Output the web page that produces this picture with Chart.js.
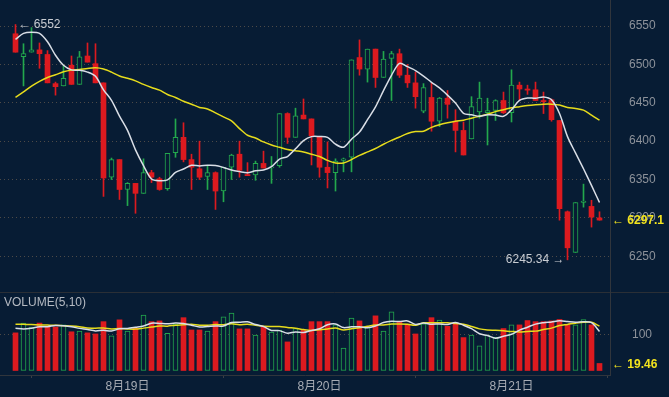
<!DOCTYPE html>
<html>
<head>
<meta charset="utf-8">
<script src="https://cdn.jsdelivr.net/npm/chart.js@4.4.1/dist/chart.umd.min.js"></script>
<style>
  html, body { margin: 0; padding: 0; background: #071c34; overflow: hidden; }
  #wrap { position: relative; width: 669px; height: 397px; }
  #priceChart { position: absolute; left: 0; top: 0; }
  #volChart { position: absolute; left: 0; top: 292px; }
</style>
</head>
<body>
<div id="wrap">
  <canvas id="priceChart" width="669" height="292"></canvas>
  <canvas id="volChart" width="669" height="105"></canvas>
</div>
<script>
/* ---------------- DATA (hourly candles) ---------------- */

const times = [
  '08-18 10:00','08-18 11:00','08-18 12:00','08-18 13:00','08-18 14:00','08-18 15:00','08-18 16:00',
  '08-18 17:00','08-18 18:00','08-18 19:00','08-18 20:00','08-18 21:00','08-18 22:00','08-18 23:00',
  '08-19 00:00','08-19 01:00','08-19 02:00','08-19 03:00','08-19 04:00','08-19 05:00','08-19 06:00','08-19 07:00',
  '08-19 08:00','08-19 09:00','08-19 10:00','08-19 11:00','08-19 12:00','08-19 13:00','08-19 14:00','08-19 15:00',
  '08-19 16:00','08-19 17:00','08-19 18:00','08-19 19:00','08-19 20:00','08-19 21:00','08-19 22:00','08-19 23:00',
  '08-20 00:00','08-20 01:00','08-20 02:00','08-20 03:00','08-20 04:00','08-20 05:00','08-20 06:00','08-20 07:00',
  '08-20 08:00','08-20 09:00','08-20 10:00','08-20 11:00','08-20 12:00','08-20 13:00','08-20 14:00','08-20 15:00',
  '08-20 16:00','08-20 17:00','08-20 18:00','08-20 19:00','08-20 20:00','08-20 21:00','08-20 22:00','08-20 23:00',
  '08-21 00:00','08-21 01:00','08-21 02:00','08-21 03:00','08-21 04:00','08-21 05:00','08-21 06:00','08-21 07:00',
  '08-21 08:00','08-21 09:00','08-21 10:00','08-21 11:00'
];

const opens = [
  6540, 6510, 6516, 6519, 6513, 6475, 6472, 6499, 6474, 6511,
  6501, 6476, 6353, 6376, 6337, 6345, 6332, 6359, 6351, 6338,
  6385, 6405, 6376, 6364, 6354, 6359, 6335, 6366, 6383, 6356.5,
  6356, 6371, 6365, 6368, 6436, 6405, 6434, 6429, 6405, 6366,
  6359, 6375, 6379, 6509, 6494, 6520, 6483, 6508, 6514, 6486,
  6476, 6439, 6457, 6426, 6456, 6426, 6414, 6403, 6438, 6437,
  6440, 6453, 6437, 6473, 6468, 6467, 6453, 6454, 6427, 6308,
  6255, 6320, 6315, 6300
];
const highs = [
  6552, 6527, 6548, 6528, 6518, 6477, 6498, 6511, 6517, 6528,
  6527, 6476, 6378, 6376, 6346, 6345, 6377, 6362, 6353, 6384,
  6429, 6424, 6383, 6400, 6368, 6360, 6366, 6383, 6400, 6372,
  6374, 6387, 6380, 6436, 6437, 6443, 6455, 6429, 6406, 6399,
  6377, 6378, 6506, 6532, 6520, 6520, 6517, 6517, 6520, 6500,
  6490, 6475, 6476, 6457, 6466, 6441, 6425, 6458, 6477, 6456,
  6454, 6464, 6493, 6477, 6473, 6477, 6464, 6455, 6427, 6309,
  6320, 6344, 6323, 6308
];
const lows = [
  6516, 6472, 6516, 6495, 6476, 6460, 6472, 6474, 6474, 6503,
  6476, 6328, 6350, 6324, 6316, 6306, 6332, 6346, 6336, 6336,
  6379, 6373, 6337, 6350, 6337, 6311, 6321, 6350, 6353, 6355,
  6349, 6365, 6345, 6366, 6397, 6405, 6429, 6369, 6353, 6339,
  6335, 6360, 6360, 6486, 6477, 6470, 6483, 6453, 6483, 6470,
  6443, 6437, 6413, 6419, 6430, 6386, 6382, 6403, 6430, 6395,
  6427, 6436, 6425, 6453, 6461, 6453, 6436, 6426, 6297, 6245.34,
  6255, 6314, 6288, 6297
];
const closes = [
  6516, 6514, 6519, 6514, 6476, 6471, 6482, 6474, 6510, 6503,
  6476, 6352, 6376, 6337, 6345, 6332, 6359, 6353, 6337, 6384,
  6405, 6376, 6366, 6353, 6359, 6335, 6366, 6382, 6362, 6355,
  6371, 6365, 6366.5, 6436, 6405, 6433, 6429, 6407, 6366, 6359,
  6374, 6377, 6506, 6494, 6520, 6483, 6507, 6514, 6486, 6476,
  6458, 6470, 6426, 6456, 6448, 6414, 6382, 6445, 6456, 6440,
  6453, 6437, 6473, 6468, 6466.5, 6453, 6451.5, 6428, 6312, 6261,
  6320, 6322, 6301, 6297.1
];

// MA lines (white = MA7, yellow = MA30)
const ma7 = [
  6532.6, 6540.5, 6542, 6540.5, 6529.6, 6512, 6498.9, 6492.9, 6492.3, 6490,
  6484.6, 6466.9, 6453.3, 6432.6, 6414, 6388.7, 6368.1, 6350.6, 6348.4, 6349.6,
  6359.3, 6363.7, 6368.6, 6367.7, 6368.6, 6368.3, 6365.7, 6362.4, 6360.4, 6358.9,
  6361.4, 6362.3, 6366.7, 6376.7, 6380, 6390.1, 6400.7, 6405.9, 6406, 6405,
  6396.1, 6392.1, 6402.6, 6411.9, 6428, 6444.7, 6465.9, 6485.9, 6501.4, 6497.1,
  6492, 6484.9, 6476.7, 6469.4, 6460, 6449.7, 6436.3, 6434.4, 6432.4, 6434.4,
  6434, 6432.4, 6440.9, 6453.1, 6456.3, 6455.9, 6457.6, 6454, 6436.1, 6405.9,
  6384.7, 6364, 6342.3, 6320.1
];
const ma30 = [
  6457, 6464.3, 6471.7, 6478, 6483, 6486.5, 6490.4, 6492.6, 6493.5, 6494.8,
  6495.6, 6494, 6490, 6485, 6482, 6478.6, 6474, 6470, 6466.5, 6460.8,
  6457, 6452, 6448.2, 6444, 6442, 6436.9, 6431.6, 6426.4, 6416.4, 6407.7,
  6404.2, 6399, 6395, 6392, 6389, 6387.5, 6386, 6383, 6380, 6375,
  6371.6, 6371.6, 6376, 6381.5, 6386, 6390.5, 6396, 6401, 6405.5, 6410,
  6412.5, 6413, 6418, 6421.5, 6424, 6426, 6427.3, 6430, 6432.6, 6435,
  6438.5, 6441, 6443.5, 6445, 6446.5, 6447.5, 6448.2, 6448.2, 6447, 6443.9,
  6442.6, 6440.4, 6434, 6427.3
];

const volumes = [
  104, 131, 120, 131, 120, 120, 126, 107, 109, 104,
  101, 135, 96, 140, 109, 117, 153, 135, 137, 103,
  128, 146, 112, 112, 109, 135, 148, 159, 115, 115,
  98, 120, 106, 112, 79, 116, 111, 135, 135, 135,
  126, 62, 145, 137, 120, 151, 109, 162, 135, 128,
  101, 129, 146, 139, 122, 128, 91, 98, 68, 98,
  92, 116, 126, 126, 138, 135, 135, 137, 141, 128,
  126, 141, 126, 19.46
];
const volMa5 = [
  117, 115, 117, 121, 121.2, 124.4, 123.4, 120.8, 116.4, 113.2,
  109.4, 111.2, 109, 115.2, 116.2, 119.4, 123, 130.8, 130.2, 129,
  131.2, 129.8, 125.2, 120.2, 121.4, 122.8, 123.2, 132.6, 133.2, 134.4,
  127, 121.4, 110.8, 110.2, 103, 106.6, 104.8, 110.6, 115.2, 126.4,
  128.4, 118.6, 120.6, 121, 118, 123, 132.4, 135.8, 135.4, 137,
  127, 131, 127.8, 128.6, 127.4, 132.8, 125.2, 115.6, 101.4, 96.6,
  89.4, 94.4, 100, 111.6, 119.6, 128.2, 132, 134.2, 137.2, 135.2,
  133.4, 134.6, 132.4, 108.1
];
const volMa10 = [
  128, 127.5, 127, 126, 125.5, 125, 124, 123, 121, 117.2,
  116.9, 117.3, 114.9, 115.8, 114.7, 114.4, 117.1, 119.9, 122.7, 122.6,
  125.3, 126.4, 128, 125.2, 125.2, 127, 126.5, 128.9, 126.7, 127.9,
  124.9, 122.3, 121.7, 121.7, 118.7, 116.8, 113.1, 110.7, 112.7, 114.7,
  117.5, 111.7, 115.6, 118.1, 122.2, 125.7, 125.5, 128.2, 128.2, 127.5,
  125, 131.7, 131.8, 132, 132.2, 129.9, 128.1, 121.7, 115, 112,
  111.1, 109.8, 107.8, 106.5, 108.1, 108.8, 113.2, 117.1, 124.4, 127.4,
  130.8, 133.3, 133.3, 122.6
];

const priceTicks = [6250, 6300, 6350, 6400, 6450, 6500, 6550];
const volTicks = [100];

/* ---------------- STYLE ---------------- */

const BG = '#071c34';
const RED = '#dc1a1f';
const GREEN = '#23a84d';
const WHITE_LINE = '#d9dee6';
const YELLOW_LINE = '#e6dc1c';
const GRID = 'rgba(125, 105, 85, 0.6)';
const AXIS_LINE = '#30353c';
const LABEL = '#8d929a';
const FONT = '"Liberation Sans", "Noto Sans CJK SC", Arial, sans-serif';

Chart.defaults.font.family = FONT;
Chart.defaults.font.size = 12;

const isUp = i => closes[i] >= opens[i];
const xMin = -1.9375;
const xMax = 74.3125;

const dayTicks = times.map((t, i) => t.endsWith('00:00') ? i : -1).filter(i => i >= 0);
const dayLabel = i => {
    const t = times[i];
    return parseInt(t.slice(0, 2), 10) + '月' + parseInt(t.slice(3, 5), 10) + '日';
};

const pts = arr => arr.map((v, i) => ({ x: i, y: v }));

// keep the plot area at the full canvas height (labels may overflow a bit)
const noPad = s => {
    s.paddingTop = 0;
    s.paddingBottom = 0;
    s.paddingLeft = 0;
    s.paddingRight = 0;
};

/* ---------------- PRICE CHART ---------------- */

const priceMarks = {
    id: 'priceMarks',
    afterDraw(chart) {
        const { ctx, chartArea, scales: { x, y } } = chart;
        ctx.save();
        ctx.textBaseline = 'middle';
        ctx.font = '12px ' + FONT;

        const hi = highs.indexOf(Math.max(...highs));
        ctx.fillStyle = '#c9cdd3';
        ctx.textAlign = 'left';
        ctx.fillText('← ' + highs[hi], x.getPixelForValue(hi) + 3, y.getPixelForValue(highs[hi]));

        const lo = lows.indexOf(Math.min(...lows));
        ctx.textAlign = 'right';
        ctx.fillText(lows[lo] + ' →', x.getPixelForValue(lo) - 3, y.getPixelForValue(lows[lo]));

        const last = closes[closes.length - 1];
        ctx.fillStyle = '#f3e41e';
        ctx.textAlign = 'left';
        ctx.font = 'bold 12px ' + FONT;
        ctx.fillText('← ' + last, chartArea.right + 2, y.getPixelForValue(last) + 1);
        ctx.restore();
    }
};

new Chart(document.getElementById('priceChart'), {
    type: 'bar',
    data: {
        datasets: [
            {
                type: 'line',
                data: pts(ma7),
                borderColor: WHITE_LINE,
                borderWidth: 1.5,
                pointRadius: 0,
                tension: 0.3,
                order: 0
            },
            {
                type: 'line',
                data: pts(ma30),
                borderColor: YELLOW_LINE,
                borderWidth: 1.5,
                pointRadius: 0,
                tension: 0.3,
                order: 0
            },
            {
                // candle bodies
                data: opens.map((o, i) => ({ x: i, y: [o, closes[i]] })),
                barThickness: 5,
                grouped: false,
                minBarLength: 1,
                borderSkipped: false,
                backgroundColor: ctx => isUp(ctx.dataIndex) ? BG : RED,
                borderColor: ctx => isUp(ctx.dataIndex) ? GREEN : RED,
                borderWidth: ctx => isUp(ctx.dataIndex) ? 1 : 0,
                order: 1
            },
            {
                // wicks
                data: lows.map((l, i) => ({ x: i, y: [l, highs[i]] })),
                barThickness: 1,
                grouped: false,
                borderWidth: 0,
                backgroundColor: ctx => isUp(ctx.dataIndex) ? GREEN : RED,
                order: 2
            }
        ]
    },
    options: {
        responsive: false,
        devicePixelRatio: 1,
        animation: false,
        layout: { padding: 0 },
        plugins: { legend: { display: false }, tooltip: { enabled: false } },
        scales: {
            x: {
                type: 'linear',
                display: false,
                offset: false,
                min: xMin,
                max: xMax
            },
            y: {
                position: 'right',
                min: 6203.4,
                max: 6584,
                afterFit: s => { s.width = 59; noPad(s); },
                afterBuildTicks: s => { s.ticks = priceTicks.map(v => ({ value: v })); },
                grid: { color: GRID, drawTicks: false },
                border: { display: true, color: AXIS_LINE, dash: [1, 3] },
                ticks: { color: LABEL, padding: 19, crossAlign: 'center', callback: v => String(v) }
            }
        }
    },
    plugins: [priceMarks]
});

/* ---------------- VOLUME CHART ---------------- */

const volMarks = {
    id: 'volMarks',
    beforeDraw(chart) {
        const { ctx, width } = chart;
        ctx.save();
        ctx.strokeStyle = '#2a2f36';
        ctx.lineWidth = 1;
        ctx.beginPath();
        ctx.moveTo(0, 0.5);
        ctx.lineTo(width, 0.5);
        ctx.stroke();
        ctx.restore();
    },
    afterDraw(chart) {
        const { ctx, chartArea, scales: { y } } = chart;
        ctx.save();
        ctx.textBaseline = 'middle';
        ctx.font = '12px ' + FONT;
        ctx.fillStyle = '#b5bac2';
        ctx.textAlign = 'left';
        ctx.fillText('VOLUME(5,10)', 4, 10.5);

        const last = volumes[volumes.length - 1];
        ctx.fillStyle = '#f3e41e';
        ctx.font = 'bold 12px ' + FONT;
        ctx.fillText('← ' + last, chartArea.right + 2, y.getPixelForValue(last) + 1);
        ctx.restore();
    }
};

new Chart(document.getElementById('volChart'), {
    type: 'bar',
    data: {
        datasets: [
            {
                type: 'line',
                data: pts(volMa5),
                borderColor: WHITE_LINE,
                borderWidth: 1.5,
                pointRadius: 0,
                tension: 0.3,
                order: 0
            },
            {
                type: 'line',
                data: pts(volMa10),
                borderColor: YELLOW_LINE,
                borderWidth: 1.5,
                pointRadius: 0,
                tension: 0.3,
                order: 0
            },
            {
                data: pts(volumes),
                barThickness: 5,
                grouped: false,
                borderSkipped: false,
                backgroundColor: ctx => isUp(ctx.dataIndex) ? BG : RED,
                borderColor: ctx => isUp(ctx.dataIndex) ? GREEN : RED,
                borderWidth: ctx => isUp(ctx.dataIndex) ? 1 : 0,
                order: 1
            }
        ]
    },
    options: {
        responsive: false,
        devicePixelRatio: 1,
        animation: false,
        layout: { padding: 0 },
        plugins: { legend: { display: false }, tooltip: { enabled: false } },
        scales: {
            x: {
                type: 'linear',
                offset: false,
                min: xMin,
                max: xMax,
                afterFit: s => { s.height = 22; noPad(s); },
                afterBuildTicks: s => { s.ticks = dayTicks.map(v => ({ value: v })); },
                grid: { drawOnChartArea: false, drawTicks: true, tickLength: 3, tickColor: '#3a3f46' },
                border: { display: true, color: AXIS_LINE },
                ticks: {
                    color: '#a7acb4',
                    autoSkip: false,
                    maxRotation: 0,
                    padding: 1,
                    callback: v => dayLabel(v)
                }
            },
            y: {
                position: 'right',
                min: -12.4,
                max: 216.9,
                afterFit: s => { s.width = 59; noPad(s); },
                afterBuildTicks: s => { s.ticks = volTicks.map(v => ({ value: v })); },
                grid: { color: GRID, drawTicks: false },
                border: { display: true, color: AXIS_LINE, dash: [1, 3] },
                ticks: { color: LABEL, padding: 22, crossAlign: 'center', callback: v => String(v) }
            }
        }
    },
    plugins: [volMarks]
});
</script>
</body>
</html>
